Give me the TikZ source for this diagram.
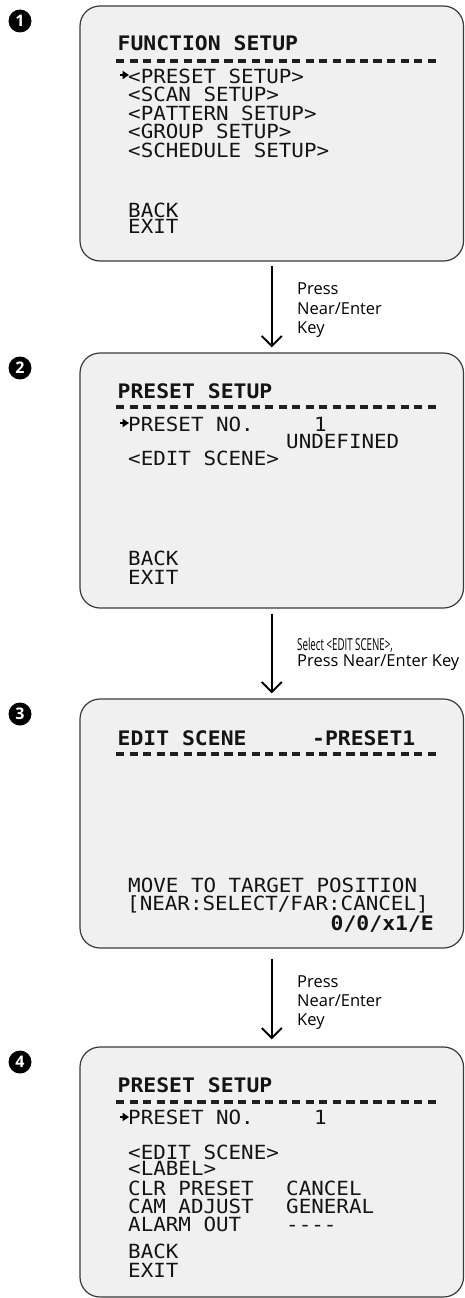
\documentclass[tikz,border=0pt]{standalone}
\usepackage{fontspec}
\usetikzlibrary{arrows.meta,calc}
\newfontfamily\osdfont[FakeStretch=1.07]{DejaVu Sans Mono}
\newfontfamily\lblfont{Open Sans}
\newfontfamily\lblcond[FakeStretch=0.59]{Open Sans}
\definecolor{scrfill}{HTML}{F0F0F0}
\definecolor{scrline}{HTML}{3A3A3A}
\tikzset{osdcursor/.pic={\fill (0,-1.2) rectangle (4,1.2); \fill (2.5,-4.3) -- (9,0) -- (2.5,4.3) -- cycle;}}
\begin{document}
\begin{tikzpicture}[x=1pt,y=-1pt,
  screen/.style={draw=scrline, line width=1.2pt, fill=scrfill, rounded corners=20pt, inner sep=0},
  osd/.style={anchor=base west, inner sep=0, text=black!92, font=\osdfont\fontsize{19.5}{19.5}\selectfont},
  osdtitle/.style={osd, font=\osdfont\bfseries\fontsize{20}{20}\selectfont},
  lbl/.style={anchor=base west, inner sep=0, font=\lblfont\fontsize{16.5}{19}\selectfont},
  lblc/.style={lbl, font=\lblcond\fontsize{16.5}{19}\selectfont},
  numdot/.style={circle, fill=black, inner sep=0, minimum size=23pt, text=white, font=\lblfont\bfseries\fontsize{16}{16}\selectfont},
  flow/.style={line width=2pt, -{Straight Barb[length=10pt,width=20pt]}},
  sep/.style={line width=3.5pt, dash pattern=on 8.2pt off 5.35pt, black!88}
]
\useasboundingbox (0,0) rectangle (464,1298);

% screens
\node[screen, minimum width=383.5pt, minimum height=255pt] (s1) at (271.75,133.5) {};
\node[screen, minimum width=383.5pt, minimum height=255pt] (s2) at (271.75,480.5) {};
\node[screen, minimum width=383.5pt, minimum height=249pt] (s3) at (271.75,823.5) {};
\node[screen, minimum width=383.5pt, minimum height=250pt] (s4) at (271.75,1172) {};

% step numbers
\node[numdot] (c1) at (20,21) {1};
\node[numdot] (c2) at (20,368) {2};
\node[numdot] (c3) at (20,714) {3};
\node[numdot] (c4) at (20,1062) {4};

% arrows
\draw[flow] ($(s1.south)+(0,4)$) -- ($(s2.north)+(0,-5)$);
\draw[flow] ($(s2.south)+(0,5)$) -- ($(s3.north)+(0,-5)$);
\draw[flow] ($(s3.south)+(0,10)$) -- ($(s4.north)+(0,-7)$);

\node[lbl] (a1a) at (297,294) {Press};
\node[lbl] (a1b) at (297,314) {Near/Enter};
\node[lbl] (a1c) at (297,333) {Key};
\node[lblc] (a2a) at (297,650) {Select <EDIT SCENE>,};
\node[lbl] (a2b) at (297,666) {Press Near/Enter Key};
\node[lbl] (a3a) at (297,987) {Press};
\node[lbl] (a3b) at (297,1006) {Near/Enter};
\node[lbl] (a3c) at (297,1025) {Key};

% screen 1
\node[osdtitle] (t1) at (117.5,51) {FUNCTION SETUP};
\draw[sep] (116,61) -- (436,61);
\pic at (120,75) {osdcursor};
\node[osd] (m11) at (128,83) {<PRESET SETUP>};
\node[osd] (m12) at (128,101) {<SCAN SETUP>};
\node[osd] (m13) at (128,120) {<PATTERN SETUP>};
\node[osd] (m14) at (128,138) {<GROUP SETUP>};
\node[osd] (m15) at (128,157) {<SCHEDULE SETUP>};
\node[osd] (b1) at (128,217) {BACK};
\node[osd] (e1) at (128,233) {EXIT};

% screen 2
\node[osdtitle] (t2) at (117.5,398) {PRESET SETUP};
\draw[sep] (116,407) -- (436,407);
\pic at (120,423) {osdcursor};
\node[osd] (m21) at (128,431) {PRESET NO.};
\node[osd] (v21) at (314,431) {1};
\node[osd] (v22) at (286,448) {UNDEFINED};
\node[osd] (m22) at (128,465) {<EDIT SCENE>};
\node[osd] (b2) at (128,565) {BACK};
\node[osd] (e2) at (128,584) {EXIT};

% screen 3
\node[osdtitle] (t3) at (117.5,745) {EDIT SCENE};
\node[osdtitle] (t3b) at (312,745) {-PRESET1};
\draw[sep] (116,754) -- (436,754);
\node[osd] (m31) at (128,892) {MOVE TO TARGET POSITION};
\node[osd] (m32) at (127,910) {[NEAR:SELECT/FAR:CANCEL]};
\node[osdtitle, anchor=base east] (m33) at (434,930) {0/0/x1/E};

% screen 4
\node[osdtitle] (t4) at (117.5,1092) {PRESET SETUP};
\draw[sep] (116,1102) -- (436,1102);
\pic at (120,1117) {osdcursor};
\node[osd] (m41) at (128,1124) {PRESET NO.};
\node[osd] (v41) at (314,1124) {1};
\node[osd] (m42) at (128,1159) {<EDIT SCENE>};
\node[osd] (m43) at (128,1175) {<LABEL>};
\node[osd] (m44) at (128,1195) {CLR PRESET};
\node[osd] (v44) at (286,1195) {CANCEL};
\node[osd] (m45) at (128,1213) {CAM ADJUST};
\node[osd] (v45) at (286,1213) {GENERAL};
\node[osd] (m46) at (128,1231) {ALARM OUT};
\node[osd] (v46) at (286,1231) {-{}-{}-{}-};
\node[osd] (b4) at (128,1258) {BACK};
\node[osd] (e4) at (128,1277) {EXIT};
\end{tikzpicture}
\end{document}
